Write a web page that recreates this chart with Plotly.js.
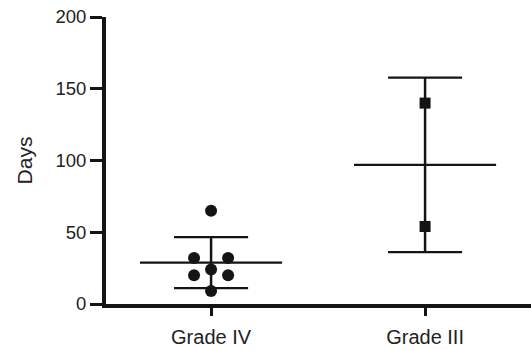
<!DOCTYPE html>
<html>
<head>
<meta charset="utf-8">
<script src="https://cdn.plot.ly/plotly-3.0.1.min.js"></script>
<style>html,body{margin:0;padding:0;background:#fff;}#chart{width:531px;height:351px;}</style>
</head>
<body>
<div id="chart"></div>
<script>
// ---- data ----
const categories = ['Grade IV', 'Grade III'];
const gradeIV = [65, 32, 32, 24, 20, 20, 9];
const gradeIII = [140, 54];
const yTicks = [0, 50, 100, 150, 200];

// ---- helpers ----
function mean(a) { return a.reduce((s, v) => s + v, 0) / a.length; }
function sd(a) {
  const m = mean(a);
  return Math.sqrt(a.reduce((s, v) => s + (v - m) * (v - m), 0) / (a.length - 1));
}
// spread points with equal values side by side (scatter dot plot)
function jitter(vals, center, spread) {
  const groups = {};
  vals.forEach((v, i) => { (groups[v] = groups[v] || []).push(i); });
  const xs = new Array(vals.length);
  Object.values(groups).forEach(idx => {
    const n = idx.length;
    idx.forEach((i, k) => { xs[i] = center + (k - (n - 1) / 2) * spread; });
  });
  return xs;
}

const INK = '#141414';
const meanHalf = 0.332, capHalf = 0.173, spread = 0.159;
const series = [gradeIV, gradeIII];
const symbols = ['circle', 'square'];
const traces = [];

series.forEach((vals, c) => {
  const m = mean(vals), s = sd(vals);
  // mean line
  traces.push({x: [c - meanHalf, c + meanHalf], y: [m, m], mode: 'lines',
    line: {color: INK, width: 2.2}, hoverinfo: 'skip', showlegend: false});
  // SD vertical
  traces.push({x: [c, c], y: [m - s, m + s], mode: 'lines',
    line: {color: INK, width: 2.5}, hoverinfo: 'skip', showlegend: false});
  // caps
  traces.push({x: [c - capHalf, c + capHalf, null, c - capHalf, c + capHalf],
    y: [m + s, m + s, null, m - s, m - s], mode: 'lines',
    line: {color: INK, width: 2.2}, hoverinfo: 'skip', showlegend: false});
});
series.forEach((vals, c) => {
  traces.push({x: jitter(vals, c, spread), y: vals, mode: 'markers',
    marker: {symbol: symbols[c], size: c === 0 ? 12 : 11, color: INK},
    cliponaxis: false, showlegend: false});
});

const FAM = 'Liberation Sans, Arial, sans-serif';
const layout = {
  width: 531, height: 351,
  margin: {l: 106, r: 0, t: 17, b: 47},
  paper_bgcolor: '#ffffff', plot_bgcolor: '#ffffff',
  font: {family: FAM, size: 19, color: '#222'},
  showlegend: false,
  xaxis: {
    range: [-0.491, 1.495], tickvals: [0, 1], ticktext: categories,
    showline: true, linewidth: 4, linecolor: INK,
    ticks: 'outside', ticklen: 8, tickwidth: 3, tickcolor: INK,
    showgrid: false, zeroline: false, fixedrange: true,
    ticklabelstandoff: 4,
    tickfont: {family: FAM, size: 20, color: '#222'}
  },
  yaxis: {
    range: [0, 200], tickvals: yTicks,
    showline: true, linewidth: 4, linecolor: INK,
    ticks: 'outside', ticklen: 12, tickwidth: 3, tickcolor: INK,
    showgrid: false, zeroline: false, fixedrange: true,
    tickfont: {family: FAM, size: 18.5, color: '#222'},
    title: {text: 'Days', font: {family: FAM, size: 21, color: '#222'}, standoff: 18}
  }
};

Plotly.newPlot('chart', traces, layout, {displayModeBar: false, staticPlot: true});
</script>
</body>
</html>
